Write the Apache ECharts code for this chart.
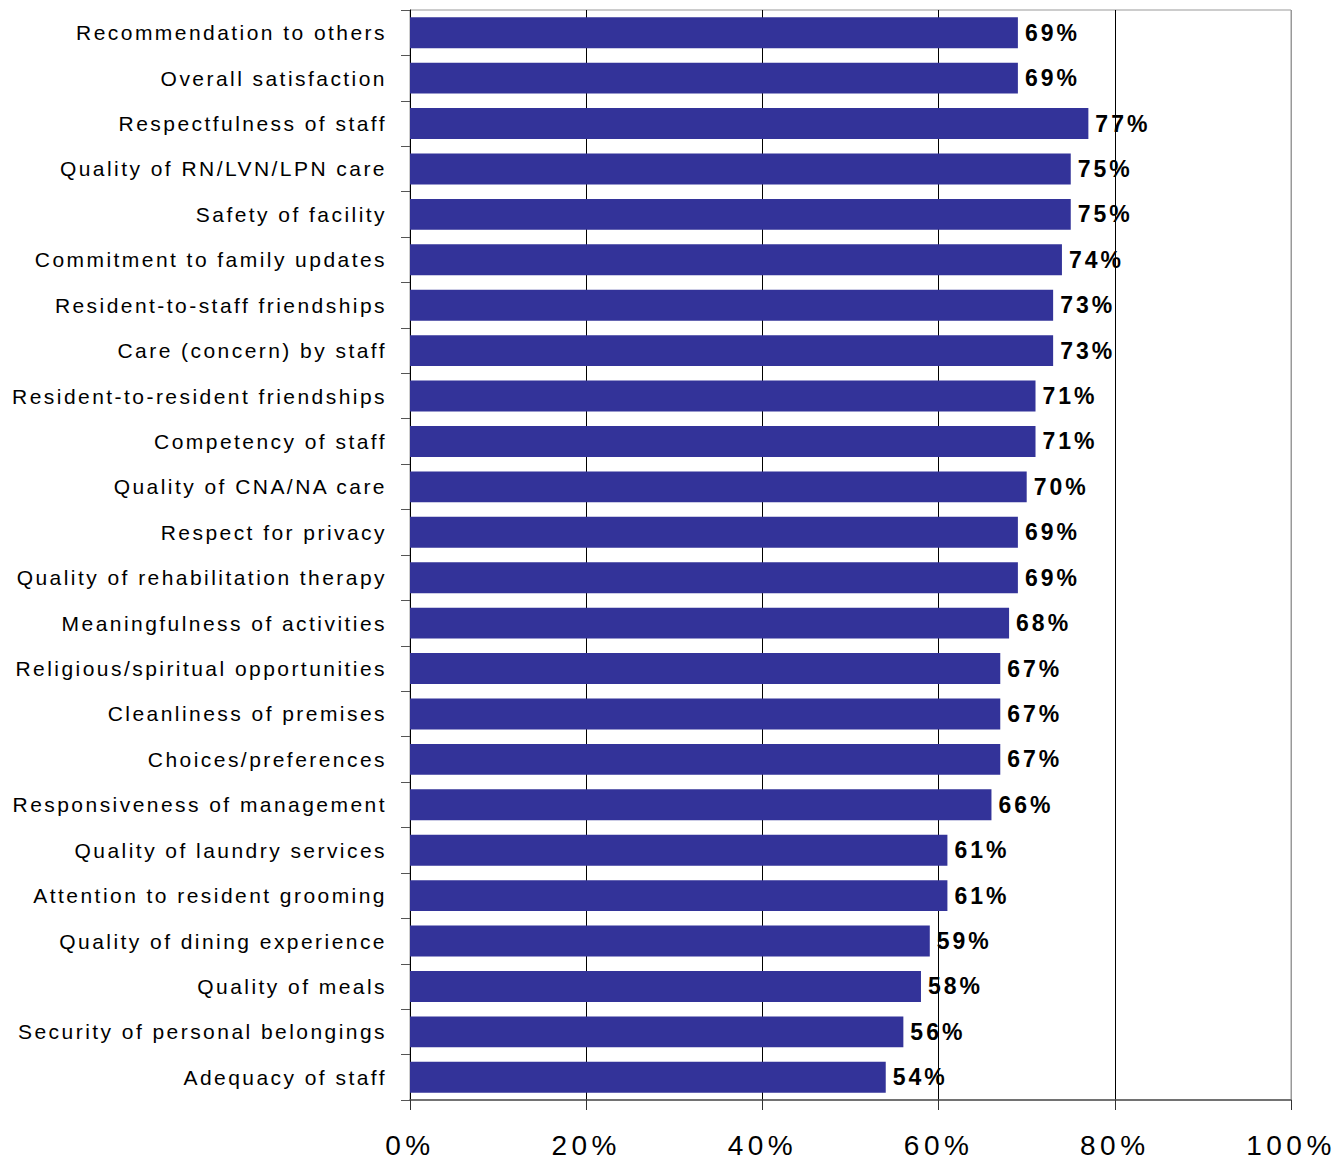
<!DOCTYPE html>
<html>
<head>
<meta charset="utf-8">
<script src="https://cdn.jsdelivr.net/npm/echarts@6/dist/echarts.min.js"></script>
<style>
  html, body { margin: 0; padding: 0; background: #fff; }
  #chart { width: 1338px; height: 1159px; }
  /* widen the character spacing of each text group */
  #chart text { letter-spacing: 2.45px; }
  #chart text[style*="bold"] { letter-spacing: 3px; }
  #chart text[style*="28px"] { letter-spacing: 4.5px; }
</style>
</head>
<body>
<div id="chart"></div>
<script>
// Survey items, listed top to bottom
const categories = [
  'Recommendation to others',
  'Overall satisfaction',
  'Respectfulness of staff',
  'Quality of RN/LVN/LPN care',
  'Safety of facility',
  'Commitment to family updates',
  'Resident-to-staff friendships',
  'Care (concern) by staff',
  'Resident-to-resident friendships',
  'Competency of staff',
  'Quality of CNA/NA care',
  'Respect for privacy',
  'Quality of rehabilitation therapy',
  'Meaningfulness of activities',
  'Religious/spiritual opportunities',
  'Cleanliness of premises',
  'Choices/preferences',
  'Responsiveness of management',
  'Quality of laundry services',
  'Attention to resident grooming',
  'Quality of dining experience',
  'Quality of meals',
  'Security of personal belongings',
  'Adequacy of staff'
];

// Percentage of respondents per item
const values = [69, 69, 77, 75, 75, 74, 73, 73, 71, 71, 70, 69, 69, 68, 67, 67, 67, 66, 61, 61, 59, 58, 56, 54];

// Value-axis ticks
const axisMin = 0;
const axisMax = 100;
const axisStep = 20;

const chart = echarts.init(document.getElementById('chart'), null, { renderer: 'svg' });

chart.setOption({
  animation: false,
  backgroundColor: '#ffffff',
  grid: {
    left: 410, right: 47, top: 10, bottom: 58,
    show: true, borderColor: '#999999', borderWidth: 1, backgroundColor: 'transparent'
  },
  xAxis: {
    type: 'value',
    min: axisMin, max: axisMax, interval: axisStep,
    axisLine: { show: true, lineStyle: { color: '#555555', width: 1.5 } },
    axisTick: { show: true, length: 10, lineStyle: { color: '#333333' } },
    splitLine: {
      show: true,
      lineStyle: { color: ['#000000', '#000000', '#000000', '#000000', '#000000', '#999999'], width: 1 }
    },
    axisLabel: {
      color: '#000000', fontFamily: 'Liberation Sans', fontSize: 28, margin: 31,
      formatter: v => v + '%'
    }
  },
  yAxis: {
    type: 'category',
    data: categories,
    inverse: true,
    axisLine: { show: true, lineStyle: { color: '#000000', width: 1 } },
    axisTick: { show: true, length: 9, inside: false, lineStyle: { color: '#555555' } },
    axisLabel: {
      color: '#000000', fontFamily: 'Liberation Sans', fontSize: 21, margin: 23
    }
  },
  series: [{
    type: 'bar',
    data: values,
    barCategoryGap: '32%',
    itemStyle: { color: '#333399' },
    label: {
      show: true, position: 'right', distance: 7,
      color: '#000000', fontFamily: 'Liberation Sans', fontWeight: 'bold', fontSize: 23,
      formatter: p => p.value + '%'
    }
  }]
});
</script>
</body>
</html>
